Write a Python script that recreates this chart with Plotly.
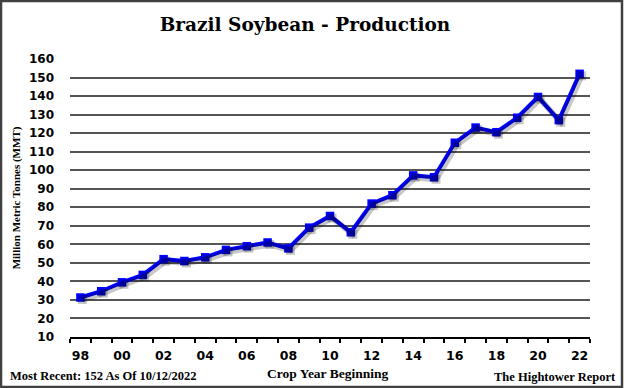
import plotly.graph_objects as go

years = list(range(1998, 2023))
production = [31.3, 34.7, 39.5, 43.5, 52.0, 51.0, 53.0, 57.0, 59.0, 61.0, 57.8, 69.0, 75.3,
              66.5, 82.0, 86.5, 97.2, 96.2, 114.8, 123.0, 120.5, 128.3, 139.5, 127.0, 152.0]
tick_years = list(range(1998, 2023, 2))
tick_labels = ["98", "00", "02", "04", "06", "08", "10", "12", "14", "16", "18", "20", "22"]
y_ticks = list(range(10, 161, 10))

W, H = 624, 388
L, R, T, B = 70, 34, 59, 51
pw, ph = W - L - R, H - T - B

xr = [1997.5, 2022.5]
yr = [10, 160]
dx = 2 * (xr[1] - xr[0]) / pw
dy = 2 * (yr[1] - yr[0]) / ph

fig = go.Figure()
# soft shadow
fig.add_trace(go.Scatter(x=years, y=production, mode="lines+markers",
                         line=dict(color="rgba(0,0,0,0.22)", width=6),
                         marker=dict(symbol="square", size=9, color="rgba(0,0,0,0.22)"),
                         xaxis="x2", yaxis="y2", hoverinfo="skip", showlegend=False))
fig.add_trace(go.Scatter(x=years, y=production, mode="lines+markers",
                         line=dict(color="#0000FF", width=4),
                         marker=dict(symbol="square", size=8.5, color="#0000FF"),
                         showlegend=False))

fig.update_layout(
    width=W, height=H,
    margin=dict(l=L, r=R, t=T, b=B),
    paper_bgcolor="white", plot_bgcolor="white",
    title=dict(text="<b>Brazil Soybean - Production</b>", x=305 / W, xanchor="center",
               y=1 - 25 / H, yanchor="middle",
               font=dict(family="DejaVu Serif", size=18.5, color="black")),
    xaxis=dict(range=xr, tickvals=tick_years, ticktext=tick_labels, ticks="",
               showgrid=False, zeroline=False, showline=True, linecolor="black", linewidth=2,
               ticklabelstandoff=6,
               tickfont=dict(family="DejaVu Sans", size=12.5, color="black", weight="bold"),
               minor=dict(ticks="outside", tick0=1997.5, dtick=1, ticklen=4,
                          tickwidth=2, tickcolor="black", showgrid=False)),
    yaxis=dict(range=yr, tickvals=y_ticks, ticks="", showline=False, zeroline=False,
               showgrid=True, gridcolor="#555555", gridwidth=2,
               ticklabelstandoff=15,
               tickfont=dict(family="DejaVu Sans", size=12, color="black", weight="bold"),
               title=dict(text="<b>Million Metric Tonnes (MMT)</b>", standoff=6,
                          font=dict(family="Liberation Serif", size=11, color="black"))),
    xaxis2=dict(range=[xr[0] - dx, xr[1] - dx], overlaying="x", visible=False),
    yaxis2=dict(range=[yr[0] + dy, yr[1] + dy], overlaying="y", visible=False),
)

fig.add_annotation(text="<b>Most Recent: 152 As Of 10/12/2022</b>", xref="paper", yref="paper",
                   x=(8 - L) / pw, y=(H - B - 376) / ph, xanchor="left", yanchor="middle",
                   showarrow=False, font=dict(family="Liberation Serif", size=12.5, color="black"))
fig.add_annotation(text="<b>Crop Year Beginning</b>", xref="paper", yref="paper",
                   x=(328 - L) / pw, y=(H - B - 373) / ph, xanchor="center", yanchor="middle",
                   showarrow=False, font=dict(family="Liberation Serif", size=13.5, color="black"))
fig.add_annotation(text="<b>The Hightower Report</b>", xref="paper", yref="paper",
                   x=(618 - L) / pw, y=(H - B - 377) / ph, xanchor="right", yanchor="middle",
                   showarrow=False, font=dict(family="Liberation Serif", size=12.5, color="black"))

fig.add_shape(type="rect", xref="paper", yref="paper",
              x0=(1 - L) / pw, x1=(W - 2 - L) / pw,
              y0=(H - B - (H - 1)) / ph, y1=(H - B - 1) / ph,
              line=dict(color="#404040", width=2.5), fillcolor="rgba(0,0,0,0)")

fig.write_html("out.html", config={"displayModeBar": False},
               post_script="document.body.style.margin='0';")
